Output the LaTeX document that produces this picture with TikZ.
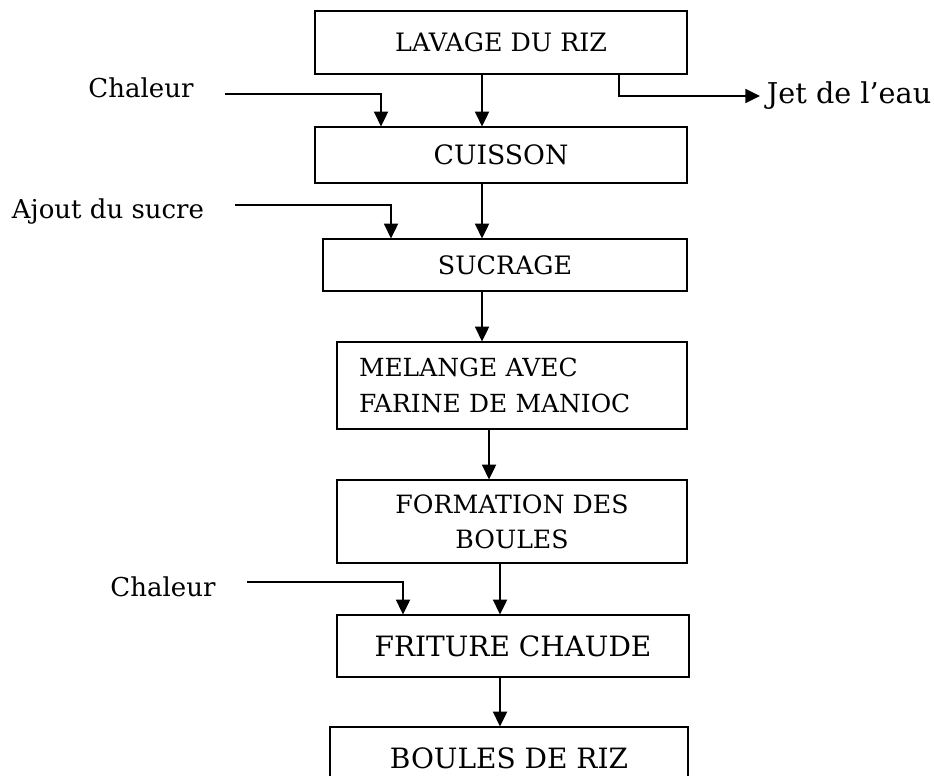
\documentclass[tikz,border=0pt]{standalone}
\usepackage{fontspec}
\setmainfont{DejaVu Serif}
\usetikzlibrary{arrows.meta,calc}
\begin{document}
\begin{tikzpicture}[x=0.75pt,y=-0.75pt,
  box/.style={draw,line width=0.95pt,inner sep=0pt,align=center,font=\fontsize{19}{26.5}\selectfont},
  bigbox/.style={box,font=\fontsize{21}{26.5}\selectfont},
  arr/.style={line width=1.4pt,-{Triangle[length=11pt,width=10.5pt]}},
  lbl/.style={inner sep=0pt,anchor=base,font=\fontsize{19.5}{22}\selectfont},
]
\useasboundingbox (0,0) rectangle (934,775);
% boxes
\node[box,minimum width=279pt,minimum height=47.25pt] (b1) at (501,42.5) {LAVAGE DU RIZ};
\node[box,font=\fontsize{20}{26.5}\selectfont,minimum width=279pt,minimum height=42pt] (b2) at (501,155) {CUISSON};
\node[box,minimum width=273pt,minimum height=39pt] (b3) at (505,265) {SUCRAGE};
\node[box,align=left,inner xsep=16.5pt,text width=229.5pt,minimum height=65.25pt,font=\fontsize{18.7}{27}\selectfont] (b4) at (512,385.5) {MELANGE AVEC\\FARINE DE MANIOC};
\node[box,minimum width=262.5pt,minimum height=62.25pt,font=\fontsize{18.9}{26.25}\selectfont] (b5) at (512,521.5) {FORMATION DES\\BOULES};
\node[bigbox,minimum width=264pt,minimum height=46.5pt] (b6) at (513,646) {FRITURE CHAUDE};
\node[bigbox,minimum width=268.5pt,minimum height=47.25pt] (b7) at (509,758.5) {BOULES DE RIZ};
% side labels
\node[lbl] (c1) at (141,97) {Chaleur};
\node[lbl] (su) at (108,218) {Ajout du sucre};
\node[lbl] (c3) at (163,596) {Chaleur};
\node[lbl,font=\fontsize{21.5}{24}\selectfont,anchor=west,inner xsep=5pt] (jet) at (760,96) {Jet de l’eau};
\coordinate (s1) at (225,94);
\coordinate (s2) at (235,205);
\coordinate (s3) at (247,582);
% main flow
\draw[arr] ($(b1.south)+(-19,0)$) -- ($(b2.north)+(-19,0)$);
\draw[arr] ($(b2.south)+(-19,0)$) -- ($(b3.north)+(-23,0)$);
\draw[arr] ($(b3.south)+(-23,0)$) -- ($(b4.north)+(-30,0)$);
\draw[arr] ($(b4.south)+(-23,0)$) -- ($(b5.north)+(-23,0)$);
\draw[arr] ($(b5.south)+(-12,0)$) -- ($(b6.north)+(-13,0)$);
\draw[arr] ($(b6.south)+(-13,0)$) -- ($(b7.north)+(-9,0)$);
% inputs and output
\draw[arr] (s1) -| ($(b2.north)+(-120,0)$);
\draw[arr] (s2) -| ($(b3.north)+(-114,0)$);
\draw[arr] (s3) -| ($(b6.north)+(-110,0)$);
\draw[arr] ($(b1.south)+(118,0)$) |- (jet.west);
\end{tikzpicture}
\end{document}
